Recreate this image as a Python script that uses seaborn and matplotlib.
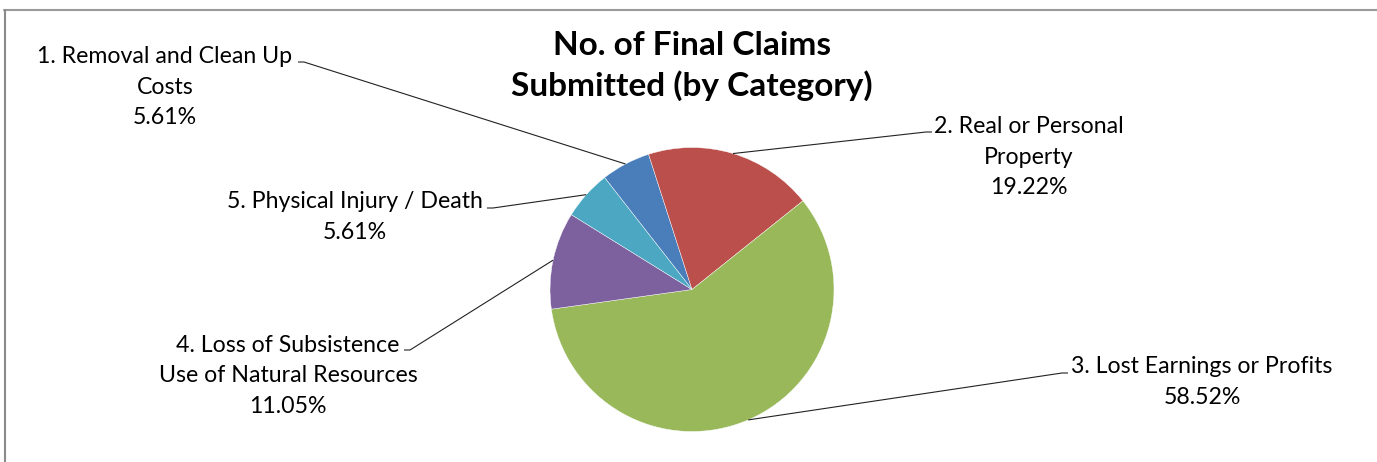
import numpy as np
import matplotlib
matplotlib.use("Agg")
import matplotlib.pyplot as plt
import seaborn as sns
from matplotlib.lines import Line2D

# data
categories = ["1. Removal and Clean Up\nCosts",
              "2. Real or Personal\nProperty",
              "3. Lost Earnings or Profits",
              "4. Loss of Subsistence\nUse of Natural Resources",
              "5. Physical Injury / Death"]
shares = [5.61, 19.22, 58.52, 11.05, 5.61]
colors = ["#4A7EBB", "#BB4F4C", "#98B85A", "#7D619F", "#4BA7C2"]
title = "No. of Final Claims\nSubmitted (by Category)"

W, H = 1377, 462
FIRST_SLICE_ANGLE = 322  # Excel-style, clockwise from 12 o'clock

# label block centers and leader anchor points (pixels, y down)
label_pos = [(165, 87), (1029, 157), (1202, 382), (288, 376), (355, 217)]
anchor_pos = [(298, 62), (932, 132), (1068, 373), (404, 350), (487, 208)]

sns.set_theme(style="white")
plt.rcParams["font.family"] = ["Lato", "DejaVu Sans"]

fig = plt.figure(figsize=(W / 100, H / 100), dpi=100)
ax = fig.add_axes([0, 0, 1, 1])


def px(x, y):
    return x, H - y


center = px(692, 289.5)
radius = 142
wedges, _ = ax.pie(shares, colors=sns.color_palette(colors), startangle=90 - FIRST_SLICE_ANGLE,
                   counterclock=False, center=center, radius=radius,
                   wedgeprops=dict(edgecolor="white", linewidth=0.3))
# pie resets the limits, so put them back to pixel space
ax.set_xlim(0, W)
ax.set_ylim(0, H)
ax.set_aspect("equal")
ax.axis("off")

for w, cat, val, lp, ap in zip(wedges, categories, shares, label_pos, anchor_pos):
    th = np.deg2rad((w.theta1 + w.theta2) / 2)
    ex = center[0] + radius * np.cos(th)
    ey = center[1] + radius * np.sin(th)
    axx, ayy = px(*ap)
    step = 6 if axx < center[0] else -6
    ax.plot([ex, axx + step, axx], [ey, ayy, ayy], color="#222222", lw=0.8,
            solid_capstyle="butt")
    ax.text(*px(*lp), f"{cat}\n{val:.2f}%", ha="center", va="center",
            multialignment="center", fontsize=16.7, color="black", linespacing=1.58)

ax.text(*px(692, 66), title, ha="center", va="center", fontsize=24,
        fontweight="bold", color="black", linespacing=1.42)

# chart area border (cropped)
fig.add_artist(Line2D([4 / W, 1], [1 - 9.5 / H, 1 - 9.5 / H], color="#9a9a9a", lw=1.5))
fig.add_artist(Line2D([4.5 / W, 4.5 / W], [0, 1 - 9.5 / H], color="#8a8a8a", lw=1.5))

fig.savefig("out.png", dpi=100, facecolor="white")
